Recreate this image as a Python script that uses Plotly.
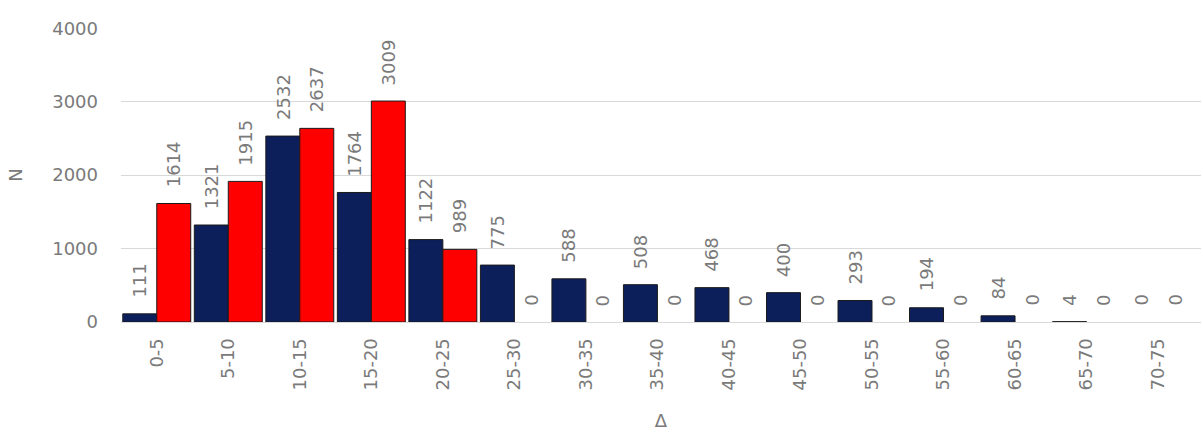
import plotly.graph_objects as go

# Δ bins and counts for the two series
bins = ["0-5", "5-10", "10-15", "15-20", "20-25", "25-30", "30-35", "35-40",
        "40-45", "45-50", "50-55", "55-60", "60-65", "65-70", "70-75"]
navy_counts = [111, 1321, 2532, 1764, 1122, 775, 588, 508, 468, 400, 293, 194, 84, 4, 0]
red_counts = [1614, 1915, 2637, 3009, 989, 0, 0, 0, 0, 0, 0, 0, 0, 0, 0]
y_ticks = [0, 1000, 2000, 3000, 4000]

FONT = "DejaVu Sans, sans-serif"
GREY = "#7a7a7a"
SIZE = 18

W, H = 1203, 439
ML, MR, MT, MB = 121, 2, 28, 117
X_RANGE = [-0.5, 14.6]
BARGAP = 0.05

# horizontal offset of each bar's centre from its category centre (pixels)
cat_px = (W - ML - MR) / (X_RANGE[1] - X_RANGE[0])
bar_off = cat_px * (1 - BARGAP) / 4

def bar_trace(values, color):
    return go.Bar(
        x=bins,
        y=values,
        marker=dict(
            color=color,
            # empty bins get no outline so nothing is drawn for them
            line=dict(color="#1a1a1a", width=[1 if v > 0 else 0 for v in values]),
        ),
        showlegend=False,
        hoverinfo="x+y",
    )

fig = go.Figure([bar_trace(navy_counts, "#0c1f5b"), bar_trace(red_counts, "#ff0000")])

# value labels, rotated, sitting a little above each bar end
for values, shift in ((navy_counts, -bar_off), (red_counts, bar_off)):
    for cat, v in zip(bins, values):
        fig.add_annotation(
            x=cat, y=v, xref="x", yref="y",
            text=str(v), textangle=-90,
            showarrow=False,
            xanchor="center", yanchor="bottom",
            xshift=shift, yshift=14,
            font=dict(family=FONT, size=SIZE, color=GREY),
        )

fig.update_layout(
    width=W,
    height=H,
    margin=dict(l=ML, r=MR, t=MT, b=MB),
    paper_bgcolor="white",
    plot_bgcolor="white",
    barmode="group",
    bargap=BARGAP,
    bargroupgap=0,
    font=dict(family=FONT, size=SIZE, color=GREY),
)

fig.update_xaxes(
    type="category",
    range=X_RANGE,
    tickangle=-90,
    ticklabelstandoff=8,
    showgrid=False,
    showline=True,
    linecolor="#d9d9d9",
    linewidth=1,
    title=dict(text="Δ", standoff=24, font=dict(size=SIZE, color=GREY)),
)

fig.update_yaxes(
    range=[0, 4004],
    tickvals=y_ticks,
    showgrid=True,
    gridcolor="#d9d9d9",
    gridwidth=1,
    zeroline=False,
    ticklabelstandoff=22,
    title=dict(text="N", standoff=24, font=dict(size=SIZE, color=GREY)),
)

fig.write_html("out.html")
